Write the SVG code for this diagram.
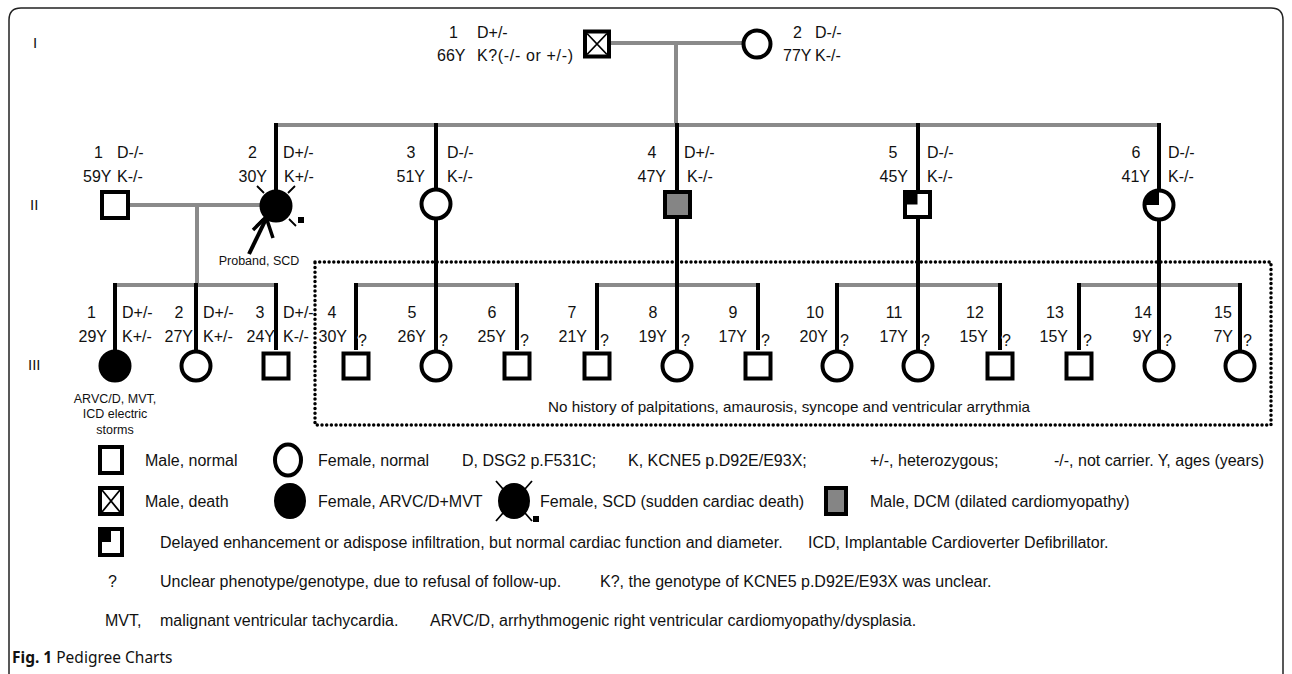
<svg xmlns="http://www.w3.org/2000/svg" width="1292" height="674" viewBox="0 0 1292 674">
<style>
text{font-family:"Liberation Sans",Arial,sans-serif;fill:#111}
.lb{font-size:16px}
.gen{font-size:15px}
.lg{font-size:16px}
.sm{font-size:12.5px;text-anchor:middle}
.m{text-anchor:middle}
.e{text-anchor:end}
.sym{fill:#fff;stroke:#000;stroke-width:4}
.aff{fill:#000;stroke:#000;stroke-width:4}
.dcm{fill:#858585;stroke:#000;stroke-width:4}
.ol{fill:none;stroke:#000;stroke-width:4}
.g{stroke:#8a8a8a;stroke-width:4;fill:none}
.b{stroke:#000;stroke-width:4;fill:none}
.thin{stroke:#000;stroke-width:1.8;fill:none}
.q{font-size:16px;stroke:#fff;stroke-width:2;paint-order:stroke}
</style>
<path d="M9,674 V20 Q9,8 21,8 H1271 Q1283,8 1283,20 V674" fill="none" stroke="#222" stroke-width="1.5"/>
<g id="generation-labels" class="gen">
<text x="33" y="48">I</text>
<text x="30" y="210">II</text>
<text x="28" y="370">III</text>
</g>
<g id="connectors">
<path class="g" d="M611,43 H742 M676,43 V125 M274,125 H1161 M130,205 H260 M197,205 V285 M115,285 H276 M356,285 H517 M597,285 H758 M837,285 H1000 M1079,285 H1240"/>
<path class="b" d="M276,123 V190 M436,123 V285 M677,123 V285 M918,123 V285 M1159,123 V285 M115,283 V350 M196,283 V350 M276,283 V350 M356,283 V350 M436,283 V350 M517,283 V350 M597,283 V350 M677,283 V350 M758,283 V350 M837,283 V350 M918,283 V350 M1000,283 V350 M1079,283 V350 M1159,283 V350 M1240,283 V350"/>
</g>
<rect id="unaffected-box" x="315" y="262" width="956" height="163" fill="none" stroke="#000" stroke-width="3.5" stroke-dasharray="0 4.7" stroke-linecap="round"/>
<text class="lb m" x="789" y="412" textLength="482" lengthAdjust="spacingAndGlyphs" style="font-size:15px">No history of palpitations, amaurosis, syncope and ventricular arrythmia</text>

<g id="I-1">
<rect class="sym" x="585" y="31.5" width="24" height="25"/>
<path class="thin" d="M587,33.5 L607,54.5 M607,33.5 L587,54.5"/>
<text class="lb m" x="453.5" y="38">1</text><text class="lb" x="477" y="38">D+/-</text>
<text class="lb" x="437" y="61">66Y</text><text class="lb" x="477" y="61" textLength="96">K?(-/- or +/-)</text>
</g>
<g id="I-2">
<circle class="sym" cx="757" cy="44" r="13.5"/>
<text class="lb" x="793" y="38">2</text><text class="lb" x="815" y="38">D-/-</text>
<text class="lb" x="783" y="61">77Y</text><text class="lb" x="815" y="61">K-/-</text>
</g>

<g id="II-1">
<rect class="sym" x="102" y="192" width="26" height="26"/>
<text class="lb m" x="98.5" y="158">1</text><text class="lb" x="117" y="158">D-/-</text>
<text class="lb" x="83" y="182">59Y</text><text class="lb" x="117" y="182">K-/-</text>
</g>
<g id="II-2">
<circle class="aff" cx="276" cy="206" r="14.5"/>
<path class="thin" d="M257,186 L264,193 M295,186 L288,193 M289,219 L296,226 M263,219 L256,226"/>
<rect x="298" y="217" width="6" height="6" fill="#000"/>
<path class="b" d="M249,254 L266,219"/>
<path d="M253,230 L266,217 L273,238" fill="none" stroke="#000" stroke-width="3.5"/>
<text class="sm" x="259" y="265">Proband, SCD</text>
<text class="lb m" x="252.5" y="158">2</text><text class="lb" x="283" y="158">D+/-</text>
<text class="lb e" x="267" y="182">30Y</text><text class="lb" x="284" y="182">K+/-</text>
</g>
<g id="II-3">
<circle class="sym" cx="436" cy="204" r="14.5"/>
<text class="lb m" x="411" y="158">3</text><text class="lb" x="447" y="158">D-/-</text>
<text class="lb e" x="425" y="182">51Y</text><text class="lb" x="447" y="182">K-/-</text>
</g>
<g id="II-4">
<rect class="dcm" x="665" y="192" width="25" height="25"/>
<text class="lb m" x="652" y="158">4</text><text class="lb" x="684" y="158">D+/-</text>
<text class="lb e" x="666" y="182">47Y</text><text class="lb" x="687" y="182">K-/-</text>
</g>
<g id="II-5">
<rect x="905" y="192" width="25" height="25" fill="#fff"/>
<rect x="905" y="192" width="12.5" height="12.5" fill="#000"/>
<rect class="ol" x="905" y="192" width="25" height="25"/>
<text class="lb m" x="893" y="158">5</text><text class="lb" x="927" y="158">D-/-</text>
<text class="lb e" x="908" y="182">45Y</text><text class="lb" x="927" y="182">K-/-</text>
</g>
<g id="II-6">
<circle cx="1159" cy="205" r="14.5" fill="#fff"/>
<path d="M1159,205 L1159,190.5 A14.5,14.5 0 0 0 1144.5,205 Z" fill="#000"/>
<circle class="ol" cx="1159" cy="205" r="14.5"/>
<text class="lb m" x="1136" y="158">6</text><text class="lb" x="1168" y="158">D-/-</text>
<text class="lb e" x="1150" y="182">41Y</text><text class="lb" x="1168" y="182">K-/-</text>
</g>

<g id="III-1">
<circle class="aff" cx="115" cy="366" r="14.5"/>
<text class="lb m" x="91.5" y="318">1</text><text class="lb e" x="107" y="342">29Y</text>
<text class="lb" x="122" y="318">D+/-</text><text class="lb" x="122" y="342">K+/-</text>
<text class="sm" x="115" y="403">ARVC/D, MVT,</text><text class="sm" x="115" y="418">ICD electric</text><text class="sm" x="115" y="434">storms</text>
</g>
<g id="III-2">
<circle class="sym" cx="196" cy="366" r="14.5"/>
<text class="lb m" x="179" y="318">2</text><text class="lb e" x="193" y="342">27Y</text>
<text class="lb" x="203" y="318">D+/-</text><text class="lb" x="203" y="342">K+/-</text>
</g>
<g id="III-3">
<rect class="sym" x="263.5" y="353.5" width="25" height="25"/>
<text class="lb m" x="260" y="318">3</text><text class="lb e" x="275" y="342">24Y</text>
<text class="lb" x="283" y="318">D+/-</text><text class="lb" x="283" y="342">K-/-</text>
</g>
<g id="III-4">
<rect class="sym" x="343.5" y="353.5" width="25" height="25"/>
<text class="lb m" x="332" y="318">4</text><text class="lb e" x="347" y="342">30Y</text><text class="q" x="358" y="346">?</text>
</g>
<g id="III-5">
<circle class="sym" cx="436" cy="366" r="14.5"/>
<text class="lb m" x="412" y="318">5</text><text class="lb e" x="426" y="342">26Y</text><text class="q" x="439" y="346">?</text>
</g>
<g id="III-6">
<rect class="sym" x="504.5" y="353.5" width="25" height="25"/>
<text class="lb m" x="492" y="318">6</text><text class="lb e" x="506" y="342">25Y</text><text class="q" x="520" y="346">?</text>
</g>
<g id="III-7">
<rect class="sym" x="584.5" y="353.5" width="25" height="25"/>
<text class="lb m" x="572" y="318">7</text><text class="lb e" x="587" y="342">21Y</text><text class="q" x="600" y="346">?</text>
</g>
<g id="III-8">
<circle class="sym" cx="677" cy="366" r="14.5"/>
<text class="lb m" x="653" y="318">8</text><text class="lb e" x="667" y="342">19Y</text><text class="q" x="681" y="346">?</text>
</g>
<g id="III-9">
<rect class="sym" x="745.5" y="353.5" width="25" height="25"/>
<text class="lb m" x="733" y="318">9</text><text class="lb e" x="747" y="342">17Y</text><text class="q" x="761" y="346">?</text>
</g>
<g id="III-10">
<circle class="sym" cx="837" cy="366" r="14.5"/>
<text class="lb m" x="815" y="318">10</text><text class="lb e" x="828" y="342">20Y</text><text class="q" x="840" y="346">?</text>
</g>
<g id="III-11">
<circle class="sym" cx="918" cy="366" r="14.5"/>
<text class="lb m" x="894" y="318">11</text><text class="lb e" x="908" y="342">17Y</text><text class="q" x="921" y="346">?</text>
</g>
<g id="III-12">
<rect class="sym" x="987.5" y="353.5" width="25" height="25"/>
<text class="lb m" x="975" y="318">12</text><text class="lb e" x="988" y="342">15Y</text><text class="q" x="1002" y="346">?</text>
</g>
<g id="III-13">
<rect class="sym" x="1066.5" y="353.5" width="25" height="25"/>
<text class="lb m" x="1055" y="318">13</text><text class="lb e" x="1068" y="342">15Y</text><text class="q" x="1083" y="346">?</text>
</g>
<g id="III-14">
<circle class="sym" cx="1159" cy="366" r="14.5"/>
<text class="lb m" x="1143" y="318">14</text><text class="lb e" x="1152" y="342">9Y</text><text class="q" x="1163" y="346">?</text>
</g>
<g id="III-15">
<circle class="sym" cx="1240" cy="366" r="14.5"/>
<text class="lb m" x="1223" y="318">15</text><text class="lb e" x="1233" y="342">7Y</text><text class="q" x="1243" y="346">?</text>
</g>

<g id="legend" class="lg">
<rect class="sym" x="100" y="447" width="22" height="26"/>
<text x="145" y="466">Male, normal</text>
<ellipse class="sym" cx="288" cy="460" rx="13" ry="15.5"/>
<text x="318" y="466">Female, normal</text>
<text x="462" y="466">D, DSG2 p.F531C;</text>
<text x="628" y="466">K, KCNE5 p.D92E/E93X;</text>
<text x="870" y="466">+/-, heterozygous;</text>
<text x="1054" y="466">-/-, not carrier. Y, ages (years)</text>

<rect class="sym" x="100" y="488" width="22" height="26"/>
<path class="thin" d="M102,490 L120,512 M120,490 L102,512"/>
<text x="145" y="507">Male, death</text>
<ellipse class="aff" cx="290" cy="501" rx="14" ry="16"/>
<text x="318" y="507">Female, ARVC/D+MVT</text>
<ellipse class="aff" cx="514" cy="501" rx="14" ry="16"/>
<path class="thin" d="M496,481 L503,489 M532,481 L525,489 M496,521 L503,513 M532,521 L525,513"/>
<rect x="533" y="516" width="6" height="6" fill="#000"/>
<text x="540" y="507">Female, SCD (sudden cardiac death)</text>
<rect class="dcm" x="826" y="488" width="20" height="26"/>
<text x="870" y="507">Male, DCM (dilated cardiomyopathy)</text>

<rect x="100" y="529" width="22" height="26" fill="#fff"/>
<rect x="100" y="529" width="11" height="13" fill="#000"/>
<rect class="ol" x="100" y="529" width="22" height="26"/>
<text x="160" y="548">Delayed enhancement or adispose infiltration, but normal cardiac function and diameter.</text>
<text x="808" y="548">ICD, Implantable Cardioverter Defibrillator.</text>

<text x="108" y="587">?</text>
<text x="160" y="587">Unclear phenotype/genotype, due to refusal of follow-up.</text>
<text x="600" y="587">K?, the genotype of KCNE5 p.D92E/E93X was unclear.</text>

<text x="105" y="626">MVT,</text>
<text x="160" y="626">malignant ventricular tachycardia.</text>
<text x="430" y="626">ARVC/D, arrhythmogenic right ventricular cardiomyopathy/dysplasia.</text>
</g>
<text id="caption" x="12" y="663" style="font-family:'Noto Sans','Open Sans',sans-serif;font-size:15.5px"><tspan font-weight="bold">Fig. 1</tspan> Pedigree Charts</text>
</svg>
